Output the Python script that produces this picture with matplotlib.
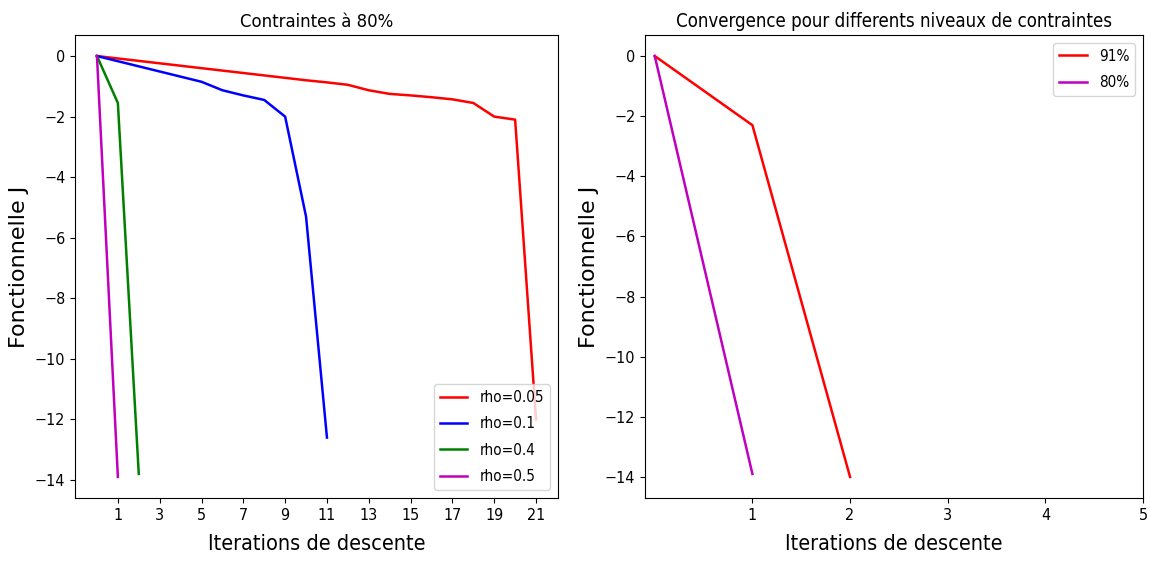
import matplotlib
matplotlib.use('Agg')
import matplotlib.pyplot as plt

# Left panel: constraint at 80%, several step sizes rho
iter_005 = list(range(22))
J_005 = [0, -0.08, -0.16, -0.24, -0.32, -0.40, -0.48, -0.56, -0.64, -0.72, -0.80,
         -0.87, -0.95, -1.13, -1.25, -1.30, -1.36, -1.43, -1.55, -2.0, -2.1, -12.0]
iter_01 = list(range(12))
J_01 = [0, -0.17, -0.34, -0.51, -0.68, -0.85, -1.13, -1.30, -1.45, -2.0, -5.3, -12.6]
iter_04 = [0, 1, 2]
J_04 = [0, -1.55, -13.8]
iter_05 = [0, 1]
J_05 = [0, -13.9]
left_xticks = list(range(1, 22, 2))

# Right panel: convergence for different constraint levels
iter_91 = [0, 1, 2]
J_91 = [0, -2.3, -14.0]
iter_80 = [0, 1]
J_80 = [0, -13.9]
right_xticks = [1, 2, 3, 4, 5]

plt.rcParams['font.family'] = ['DejaVu Sans']
plt.rcParams['font.stretch'] = 'condensed'
plt.rcParams['lines.linewidth'] = 1.8

fig = plt.figure(figsize=(11.51, 5.61), dpi=100)
ax1 = fig.add_axes([75 / 1151, 63 / 561, 483 / 1151, 463 / 561])
ax2 = fig.add_axes([645 / 1151, 63 / 561, 498 / 1151, 463 / 561])

leg_kw = dict(fontsize=11, labelspacing=0.75, handlelength=1.8)

ax1.plot(iter_005, J_005, color='red', label='rho=0.05')
ax1.plot(iter_01, J_01, color='blue', label='rho=0.1')
ax1.plot(iter_04, J_04, color='green', label='rho=0.4')
ax1.plot(iter_05, J_05, color='m', label='rho=0.5')
ax1.set_xticks(left_xticks)
ax1.set_title('Contraintes à 80%', fontsize=13.2)
ax1.legend(loc='lower right', **leg_kw)

ax2.plot(iter_91, J_91, color='red', label='91%')
ax2.plot(iter_80, J_80, color='m', label='80%')
ax2.set_xticks(right_xticks)
ax2.set_title('Convergence pour differents niveaux de contraintes', fontsize=13.4)
ax2.legend(loc='upper right', **leg_kw)

for ax in (ax1, ax2):
    ax.set_xlabel('Iterations de descente', fontsize=15.5, labelpad=8)
    ax.set_ylabel('Fonctionnelle J', fontsize=16, fontstretch='normal')
    ax.tick_params(labelsize=11.5)

plt.savefig('out.png', dpi=100, facecolor='white')
plt.close()
